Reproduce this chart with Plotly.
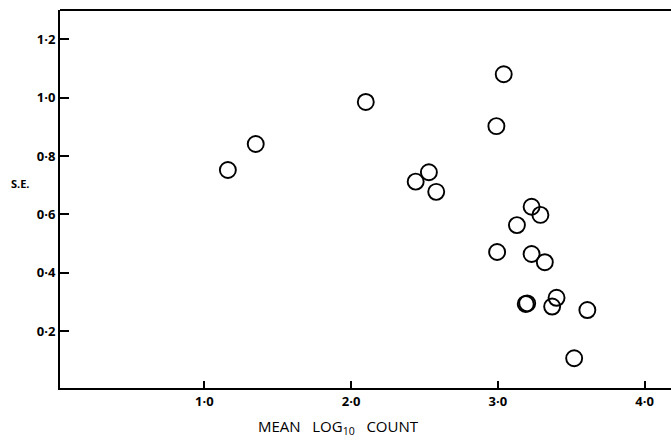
import plotly.graph_objects as go

# Data
mean_log10_count = [1.16, 1.35, 2.10, 2.44, 2.53, 2.58, 2.99, 3.04, 3.23, 3.29,
                    3.13, 2.995, 3.23, 3.32, 3.19, 3.20, 3.40, 3.37, 3.61, 3.52]
std_error = [0.752, 0.841, 0.985, 0.712, 0.744, 0.677, 0.902, 1.08, 0.626, 0.598,
             0.563, 0.471, 0.464, 0.436, 0.293, 0.295, 0.314, 0.284, 0.272, 0.107]

x_tick_vals = [1.0, 2.0, 3.0, 4.0]
x_tick_text = ["1·0", "2·0", "3·0", "4·0"]
y_tick_vals = [0.2, 0.4, 0.6, 0.8, 1.0, 1.2]
y_tick_text = ["0·2", "0·4", "0·6", "0·8", "1·0", "1·2"]

font_family = "Open Sans"

fig = go.Figure()
fig.add_trace(go.Scatter(
    x=mean_log10_count, y=std_error, mode="markers",
    marker=dict(symbol="circle-open", size=16, color="black",
                line=dict(color="black", width=1.9)),
    showlegend=False, hoverinfo="skip",
))

fig.update_layout(
    width=671, height=441,
    margin=dict(l=60, r=0, t=10, b=53),
    paper_bgcolor="white", plot_bgcolor="white",
    font=dict(family=font_family, color="black", size=12),
    xaxis=dict(range=[0.016, 4.18], tickvals=x_tick_vals,
               ticktext=[f"<b>{t}</b>" for t in x_tick_text],
               ticks="inside", ticklen=7, tickwidth=1.5, tickcolor="black",
               showline=True, linecolor="black", linewidth=2,
               showgrid=False, zeroline=False,
               tickfont=dict(family=font_family, size=13, color="black")),
    yaxis=dict(range=[0.005, 1.30], tickvals=y_tick_vals,
               ticktext=[f"<b>{t}</b>" for t in y_tick_text],
               ticks="inside", ticklen=9, tickwidth=1.5, tickcolor="black",
               showline=True, linecolor="black", linewidth=2,
               showgrid=False, zeroline=False,
               tickfont=dict(family=font_family, size=13, color="black")),
    shapes=[
        dict(type="line", xref="paper", yref="paper", x0=0, x1=1, y0=1, y1=1,
             line=dict(color="black", width=2)),
    ],
    annotations=[
        dict(text="<b>S.E.</b>", x=-0.064, y=0.54, xref="paper", yref="paper",
             xanchor="center", yanchor="middle",
             showarrow=False, font=dict(family=font_family, size=11, color="black")),
        dict(text="MEAN   LOG<sub>10</sub>   COUNT", x=0.455, y=-0.104,
             xref="paper", yref="paper", xanchor="center", yanchor="middle",
             showarrow=False, font=dict(family=font_family, size=15, color="black")),
    ],
)

fig.write_html("out.html")
